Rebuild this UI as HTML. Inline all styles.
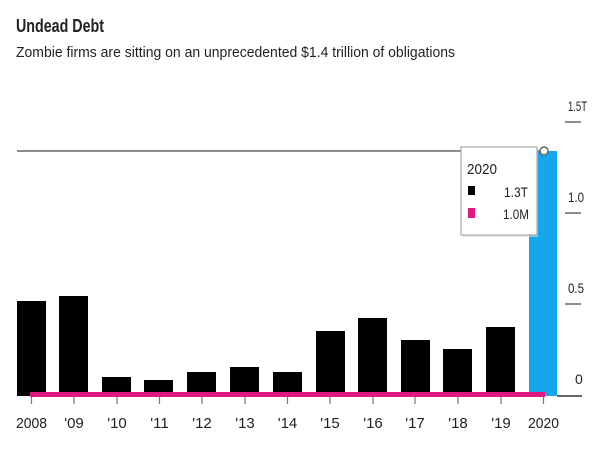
<!DOCTYPE html>
<html><head><meta charset="utf-8"><style>
html,body{margin:0;padding:0;background:#fff;}
svg{display:block;}
text{font-family:"Liberation Sans",sans-serif;fill:#222;}
</style></head><body>
<svg width="602" height="457" viewBox="0 0 602 457" xmlns="http://www.w3.org/2000/svg">
<rect width="602" height="457" fill="#fff"/>
<text x="16" y="32" font-size="18" font-weight="bold" textLength="88" lengthAdjust="spacingAndGlyphs" fill="#111">Undead Debt</text>
<text x="16" y="57" font-size="15" textLength="439" lengthAdjust="spacingAndGlyphs">Zombie firms are sitting on an unprecedented $1.4 trillion of obligations</text>

<!-- y axis -->
<g font-size="14">
<text x="568" y="111" textLength="19" lengthAdjust="spacingAndGlyphs">1.5T</text>
<text x="568" y="202" textLength="16" lengthAdjust="spacingAndGlyphs">1.0</text>
<text x="568" y="293" textLength="16" lengthAdjust="spacingAndGlyphs">0.5</text>
<text x="575" y="384">0</text>
</g>
<g stroke="#666" stroke-width="1.5">
<line x1="565" y1="122" x2="581" y2="122"/>
<line x1="565" y1="213" x2="581" y2="213"/>
<line x1="565" y1="304" x2="581" y2="304"/>
<line x1="557" y1="396" x2="582" y2="396" stroke-width="2"/>
</g>

<!-- reference line -->
<line x1="17" y1="151" x2="541" y2="151" stroke="#666" stroke-width="1.5"/>

<!-- bars -->
<g fill="#000">
<rect x="17" y="301" width="29" height="95"/>
<rect x="59" y="296" width="29" height="100"/>
<rect x="102" y="377" width="29" height="19"/>
<rect x="144" y="380" width="29" height="16"/>
<rect x="187" y="372" width="29" height="24"/>
<rect x="230" y="367" width="29" height="29"/>
<rect x="273" y="372" width="29" height="24"/>
<rect x="316" y="331" width="29" height="65"/>
<rect x="358" y="318" width="29" height="78"/>
<rect x="401" y="340" width="29" height="56"/>
<rect x="443" y="349" width="29" height="47"/>
<rect x="486" y="327" width="29" height="69"/>
</g>
<rect x="529" y="151" width="28" height="245" fill="#16a6ee"/>

<!-- pink line -->
<rect x="30" y="392" width="515" height="5" fill="#e0187f"/>

<!-- x ticks -->
<g stroke="#777" stroke-width="1.2">
<line x1="31.5" y1="397" x2="31.5" y2="404"/>
<line x1="74" y1="397" x2="74" y2="404"/>
<line x1="117" y1="397" x2="117" y2="404"/>
<line x1="159.5" y1="397" x2="159.5" y2="404"/>
<line x1="202" y1="397" x2="202" y2="404"/>
<line x1="245" y1="397" x2="245" y2="404"/>
<line x1="287.5" y1="397" x2="287.5" y2="404"/>
<line x1="330" y1="397" x2="330" y2="404"/>
<line x1="373" y1="397" x2="373" y2="404"/>
<line x1="415" y1="397" x2="415" y2="404"/>
<line x1="458" y1="397" x2="458" y2="404"/>
<line x1="501" y1="397" x2="501" y2="404"/>
<line x1="543.5" y1="397" x2="543.5" y2="404"/>
</g>
<g font-size="15" text-anchor="middle">
<text x="31.5" y="428" textLength="31" lengthAdjust="spacingAndGlyphs">2008</text>
<text x="74" y="428">'09</text>
<text x="117" y="428">'10</text>
<text x="159.5" y="428">'11</text>
<text x="202" y="428">'12</text>
<text x="245" y="428">'13</text>
<text x="287.5" y="428">'14</text>
<text x="330" y="428">'15</text>
<text x="373" y="428">'16</text>
<text x="415" y="428">'17</text>
<text x="458" y="428">'18</text>
<text x="501" y="428">'19</text>
<text x="543.5" y="428" textLength="31" lengthAdjust="spacingAndGlyphs">2020</text>
</g>

<!-- circle marker -->
<circle cx="544" cy="151" r="4" fill="#fff" stroke="#666" stroke-width="1.5"/>

<!-- tooltip -->
<rect x="462" y="149" width="76" height="88" fill="#ddd" opacity="0.6"/>
<rect x="461" y="147" width="76" height="88" fill="#fff" stroke="#999" stroke-width="1"/>
<text x="467" y="174" font-size="15" textLength="30" lengthAdjust="spacingAndGlyphs">2020</text>
<rect x="468" y="186" width="7" height="9" fill="#000"/>
<text x="528" y="197" font-size="14" text-anchor="end" textLength="24" lengthAdjust="spacingAndGlyphs">1.3T</text>
<rect x="468" y="208" width="7" height="10" fill="#e0187f"/>
<text x="529" y="219" font-size="14" text-anchor="end" textLength="26" lengthAdjust="spacingAndGlyphs">1.0M</text>
</svg>
</body></html>
